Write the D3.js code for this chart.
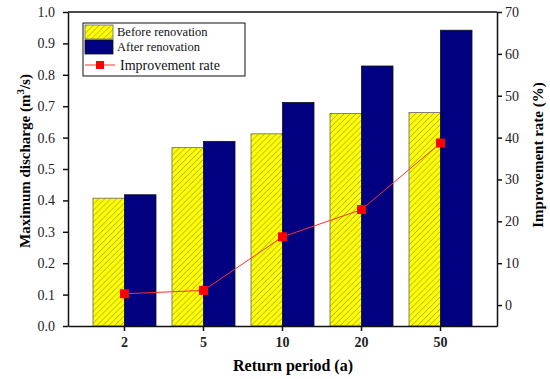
<!DOCTYPE html>
<html>
<head>
<meta charset="utf-8">
<script src="https://cdn.jsdelivr.net/npm/d3@7"></script>
<style>
  body { margin: 0; background: #fff; }
  svg, svg text { font-family: "Liberation Serif", "Times New Roman", serif; }
  .axis text { font-size: 14px; fill: #222; font-family: "Liberation Serif", "Times New Roman", serif; }
  .axis path, .axis line { stroke: #111; stroke-width: 1.5; }
</style>
</head>
<body>
<div id="chart"></div>
<script>
const periods = ['2', '5', '10', '20', '50'];
const before = [0.407, 0.568, 0.612, 0.677, 0.680];
const after = [0.418, 0.588, 0.712, 0.828, 0.942];
const rate = [2.7, 3.5, 16.3, 22.8, 38.7];
const leftTicks = [0, 0.1, 0.2, 0.3, 0.4, 0.5, 0.6, 0.7, 0.8, 0.9, 1.0];
const rightTicks = [0, 10, 20, 30, 40, 50, 60, 70];

const width = 550, height = 379;
const plotL = 68, plotR = 497, plotT = 12, plotB = 326;

const svg = d3.select('#chart').append('svg')
  .attr('width', width)
  .attr('height', height);

// hatch for the "before" bars
const defs = svg.append('defs');
const pat = defs.append('pattern')
  .attr('id', 'hatch')
  .attr('patternUnits', 'userSpaceOnUse')
  .attr('width', 4.2).attr('height', 4.2)
  .attr('patternTransform', 'rotate(45)');
pat.append('rect').attr('width', 4.2).attr('height', 4.2).attr('fill', '#ffff00');
pat.append('line')
  .attr('x1', 0).attr('y1', 0).attr('x2', 0).attr('y2', 4.2)
  .attr('stroke', '#555').attr('stroke-width', 0.7);

let x = d3.scaleBand()
  .domain(periods)
  .range([plotL, plotR])
  .paddingInner(0)
  .paddingOuter(0.215);

let y = d3.scaleLinear().domain([0, 1]).range([plotB, plotT]);
let y2 = d3.scaleLinear().domain([-5, 70]).range([plotB, plotT]);

const barW = 31.5;

// bars
svg.selectAll('.before')
  .data(periods)
  .enter().append('rect')
  .attr('class', 'before')
  .attr('x', (d) => x(d) + x.bandwidth() / 2 - barW)
  .attr('y', (d, i) => y(before[i]))
  .attr('width', barW)
  .attr('height', (d, i) => plotB - y(before[i]))
  .attr('fill', 'url(#hatch)')
  .attr('stroke', '#666')
  .attr('stroke-width', 0.8);

svg.selectAll('.after')
  .data(periods)
  .enter().append('rect')
  .attr('class', 'after')
  .attr('x', (d) => x(d) + x.bandwidth() / 2)
  .attr('y', (d, i) => y(after[i]))
  .attr('width', barW)
  .attr('height', (d, i) => plotB - y(after[i]))
  .attr('fill', '#000080')
  .attr('stroke', '#111')
  .attr('stroke-width', 0.8);

// improvement rate line
const line = d3.line()
  .x((d, i) => x(periods[i]) + x.bandwidth() / 2)
  .y((d) => y2(d));

svg.append('path')
  .datum(rate)
  .attr('d', line)
  .attr('fill', 'none')
  .attr('stroke', '#ff3030')
  .attr('stroke-width', 1);

svg.selectAll('.pt')
  .data(rate)
  .enter().append('rect')
  .attr('class', 'pt')
  .attr('x', (d, i) => x(periods[i]) + x.bandwidth() / 2 - 4.5)
  .attr('y', (d) => y2(d) - 4.5)
  .attr('width', 9).attr('height', 9)
  .attr('fill', '#ff0000');

// axes
svg.append('g')
  .attr('class', 'axis')
  .attr('transform', 'translate(' + plotL + ',0)')
  .call(d3.axisLeft(y).tickValues(leftTicks).tickFormat(d3.format('.1f')).tickSize(5).tickSizeOuter(0).tickPadding(8));

svg.append('g')
  .attr('class', 'axis')
  .attr('transform', 'translate(' + plotR + ',0)')
  .call(d3.axisRight(y2).tickValues(rightTicks).tickSize(5).tickSizeOuter(0).tickPadding(3));

const gx = svg.append('g')
  .attr('class', 'axis')
  .attr('transform', 'translate(0,' + plotB + ')')
  .call(d3.axisBottom(x).tickSize(5).tickSizeOuter(0).tickPadding(6));
gx.selectAll('text').attr('font-weight', 'bold');

svg.append('line')
  .attr('x1', plotL).attr('x2', plotR)
  .attr('y1', plotT).attr('y2', plotT)
  .attr('stroke', '#111').attr('stroke-width', 1.5);

// axis titles
svg.append('text')
  .attr('x', 293)
  .attr('y', 371)
  .attr('text-anchor', 'middle')
  .attr('font-weight', 'bold')
  .attr('font-size', 16)
  .text('Return period (a)');

const lt = svg.append('text')
  .attr('transform', 'translate(30,161) rotate(-90)')
  .attr('text-anchor', 'middle')
  .attr('font-weight', 'bold')
  .attr('font-size', 15);
lt.append('tspan').text('Maximum discharge (m');
lt.append('tspan').attr('font-size', 11).attr('dy', -6).text('3');
lt.append('tspan').attr('dy', 6).text('/s)');

svg.append('text')
  .attr('transform', 'translate(543,155) rotate(-90)')
  .attr('text-anchor', 'middle')
  .attr('font-weight', 'bold')
  .attr('font-size', 15)
  .text('Improvement rate (%)');

// legend
const lg = svg.append('g').attr('transform', 'translate(83,23)');
lg.append('rect')
  .attr('width', 162).attr('height', 53)
  .attr('fill', '#fff').attr('stroke', '#111').attr('stroke-width', 1);
lg.append('rect')
  .attr('x', 2).attr('y', 2).attr('width', 28).attr('height', 14)
  .attr('fill', 'url(#hatch)').attr('stroke', '#666').attr('stroke-width', 0.8);
lg.append('rect')
  .attr('x', 2).attr('y', 17).attr('width', 28).attr('height', 14)
  .attr('fill', '#000080').attr('stroke', '#111').attr('stroke-width', 0.8);
lg.append('line')
  .attr('x1', 2).attr('x2', 32).attr('y1', 42).attr('y2', 42)
  .attr('stroke', '#ff3030').attr('stroke-width', 1);
lg.append('rect')
  .attr('x', 13).attr('y', 38).attr('width', 8).attr('height', 8)
  .attr('fill', '#ff0000');

const labels = ['Before renovation', 'After renovation', 'Improvement rate'];
lg.selectAll('.lab')
  .data(labels)
  .enter().append('text')
  .attr('class', 'lab')
  .attr('x', (d, i) => i === 2 ? 37 : 34)
  .attr('y', (d, i) => [13, 28, 47][i])
  .attr('font-size', (d, i) => i === 2 ? 14 : 12.5)
  .attr('fill', '#111')
  .text((d) => d);
</script>
</body>
</html>
